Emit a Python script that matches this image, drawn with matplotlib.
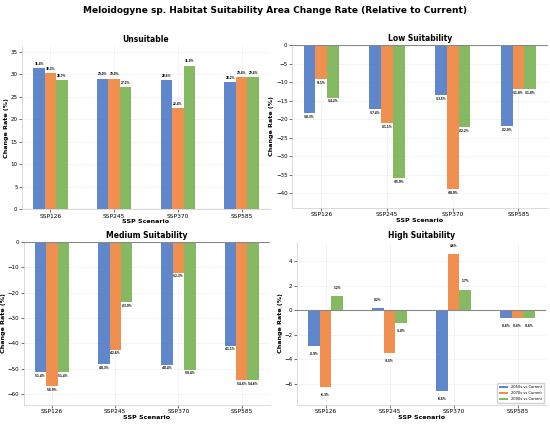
import matplotlib
matplotlib.use("Agg")
import matplotlib.pyplot as plt
import numpy as np

scenarios = ["SSP126", "SSP245", "SSP370", "SSP585"]
periods = ["2050s vs Current", "2070s vs Current", "2090s vs Current"]
colors = ["#4472C4", "#ED7D31", "#70AD47"]

unsuitable = {
    "2050s vs Current": [31.4, 29.0, 28.6, 28.2],
    "2070s vs Current": [30.3, 29.0, 22.4, 29.4],
    "2090s vs Current": [28.7, 27.2, 31.9, 29.4],
}
low = {
    "2050s vs Current": [-18.3, -17.4, -13.5, -22.0],
    "2070s vs Current": [-9.1, -21.1, -38.9, -11.8],
    "2090s vs Current": [-14.2, -35.9, -22.2, -11.8],
}
medium = {
    "2050s vs Current": [-51.4, -48.3, -48.4, -41.1],
    "2070s vs Current": [-56.9, -42.6, -12.3, -54.6],
    "2090s vs Current": [-51.4, -23.9, -50.4, -54.6],
}
high = {
    "2050s vs Current": [-2.9, 0.2, -6.6, -0.6],
    "2070s vs Current": [-6.3, -3.5, 4.6, -0.6],
    "2090s vs Current": [1.2, -1.0, 1.7, -0.6],
}

panels = [
    ("Unsuitable", unsuitable, (0, 36.2), [0.040, 0.508, 0.451, 0.383]),
    ("Low Suitability", low, (-44.0, 0), [0.531, 0.511, 0.465, 0.383]),
    ("Medium Suitability", medium, (-64.3, 0), [0.043, 0.047, 0.448, 0.384]),
    ("High Suitability", high, (-7.75, 5.6), [0.540, 0.047, 0.453, 0.384]),
]

fig = plt.figure(figsize=(5.5, 4.25), dpi=100)
fig.suptitle("Meloidogyne sp. Habitat Suitability Area Change Rate (Relative to Current)",
             fontsize=6.5, fontweight="bold", y=0.985)

x = np.arange(len(scenarios))
width = 0.18
for title, data, ylim, pos in panels:
    ax = fig.add_axes(pos)
    for i, p in enumerate(periods):
        vals = data[p]
        bars = ax.bar(x + (i - 1) * width, vals, width, color=colors[i], alpha=0.85,
                      label=p, zorder=3)
        for b, v in zip(bars, vals):
            if v >= 0:
                ax.text(b.get_x() + b.get_width() / 2, v + 0.5, f"{v:.1f}%",
                        ha="center", va="bottom", fontsize=2.0, fontweight="bold")
            else:
                ax.text(b.get_x() + b.get_width() / 2, v - 0.5, f"{v:.1f}%",
                        ha="center", va="top", fontsize=2.0, fontweight="bold")
    ax.axhline(0, color="#888888", linewidth=0.8, zorder=4)
    ax.set_ylim(*ylim)
    ax.set_xticks(x)
    ax.set_xticklabels(scenarios, fontsize=4.2)
    ax.tick_params(axis="y", labelsize=4.0, length=2, width=0.4, pad=1.2)
    ax.tick_params(axis="x", length=2, width=0.4, pad=1.2)
    ax.set_title(title, fontsize=5.5, fontweight="bold", pad=3)
    ax.set_xlabel("SSP Scenario", fontsize=4.6, fontweight="bold", labelpad=0.5)
    ax.set_ylabel("Change Rate (%)", fontsize=4.6, fontweight="bold", labelpad=1.2)
    ax.grid(True, color="#ececec", linewidth=0.4, zorder=0)
    for s in ["top", "right"]:
        ax.spines[s].set_visible(False)
    for s in ["left", "bottom"]:
        ax.spines[s].set_color("#cccccc")
        ax.spines[s].set_linewidth(0.5)
    if title == "High Suitability":
        ax.legend(loc="lower right", fontsize=2.6, frameon=True, framealpha=0.9,
                  edgecolor="#cccccc", handlelength=2.5, borderpad=0.6)

fig.savefig("out.png", dpi=100)
